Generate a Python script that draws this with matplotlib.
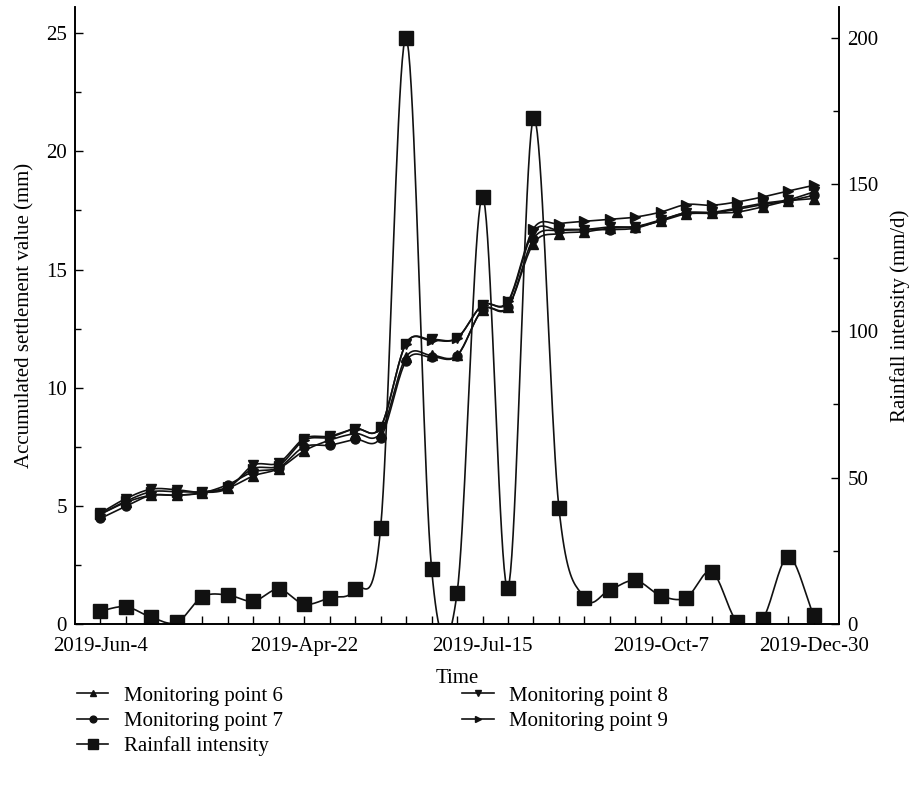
import matplotlib
matplotlib.use('Agg')
import matplotlib.pyplot as plt
import numpy as np

rain = [4.5, 5.9, 2.3, 0.6, 9.3, 9.9, 7.8, 11.9, 6.8, 9.0, 11.9, 32.9, 200, 18.9, 10.5,
        145.8, 12.4, 172.6, 39.7, 9.0, 11.7, 14.9, 9.7, 9.0, 17.9, 0.8, 1.8, 22.9, 3.1]
mp6 = [4.65, 5.15, 5.45, 5.45, 5.55, 5.75, 6.27, 6.58, 7.33, 7.78, 8.06, 8.1, 11.3, 11.37, 11.37,
       13.3, 13.42, 16.1, 16.52, 16.59, 16.75, 16.8, 17.05, 17.35, 17.38, 17.43, 17.65, 17.9, 18.0]
mp7 = [4.47, 4.99, 5.45, 5.45, 5.55, 5.9, 6.44, 6.62, 7.5, 7.57, 7.81, 7.89, 11.13, 11.3, 11.35,
       13.3, 13.4, 16.3, 16.66, 16.69, 16.69, 16.75, 17.08, 17.4, 17.4, 17.55, 17.75, 17.9, 18.14]
mp8 = [4.7, 5.31, 5.71, 5.68, 5.57, 5.74, 6.72, 6.82, 7.85, 7.95, 8.27, 8.34, 11.87, 12.04, 12.1,
       13.5, 13.62, 16.6, 16.66, 16.69, 16.8, 16.82, 17.1, 17.4, 17.42, 17.6, 17.8, 17.95, 18.28]
mp9 = [4.65, 5.2, 5.6, 5.6, 5.6, 5.8, 6.58, 6.7, 7.78, 7.9, 8.27, 8.34, 11.87, 12.0, 12.1,
       13.5, 13.66, 16.73, 16.94, 17.04, 17.12, 17.22, 17.43, 17.75, 17.72, 17.86, 18.07, 18.32, 18.56]
tick_pos = [0, 8, 15, 22, 28]
tick_labels = ['2019-Jun-4', '2019-Apr-22', '2019-Jul-15', '2019-Oct-7', '2019-Dec-30']

N_SUB = 20


def smooth(y, n=N_SUB):
    # Catmull-Rom curve through equally spaced points, x = 0..len-1
    y = np.asarray(y, float)
    m = np.gradient(y)
    xs, ys = [], []
    t = np.linspace(0, 1, n, endpoint=False)
    h00 = 2 * t ** 3 - 3 * t ** 2 + 1
    h10 = t ** 3 - 2 * t ** 2 + t
    h01 = -2 * t ** 3 + 3 * t ** 2
    h11 = t ** 3 - t ** 2
    for i in range(len(y) - 1):
        xs.append(i + t)
        ys.append(h00 * y[i] + h10 * m[i] + h01 * y[i + 1] + h11 * m[i + 1])
    xs.append([len(y) - 1])
    ys.append([y[-1]])
    return np.concatenate(xs), np.concatenate(ys)


plt.rcParams['font.family'] = ['Liberation Serif', 'DejaVu Serif']
plt.rcParams['font.size'] = 15

fig = plt.figure(figsize=(9.15, 7.95), dpi=100)
ax = fig.add_axes([0.082, 0.215, 0.835, 0.776])
ax2 = ax.twinx()

series = [(mp6, '^', 'Monitoring point 6'), (mp7, 'o', 'Monitoring point 7'),
          (mp8, 'v', 'Monitoring point 8'), (mp9, '>', 'Monitoring point 9')]
handles = []
for vals, mk, lab in series:
    xs, ys = smooth(vals)
    h, = ax.plot(xs, ys, color='#111111', lw=1.2, marker=mk, markersize=6.5,
                 markevery=N_SUB, label=lab)
    handles.append(h)

xs, ys = smooth(rain)
hr, = ax2.plot(xs, ys, color='#111111', lw=1.2, marker='s', markersize=9.5,
               markevery=N_SUB, label='Rainfall intensity')

ax.set_xlim(-1, 29)
ax.set_ylim(0, 26.1)
ax2.set_ylim(0, 210.5)
ax.set_yticks([0, 5, 10, 15, 20, 25])
ax.set_yticks(np.arange(2.5, 26, 5), minor=True)
ax2.set_yticks([0, 50, 100, 150, 200])
ax2.set_yticks(np.arange(25, 210, 50), minor=True)
ax.set_xticks(tick_pos)
ax.set_xticklabels(tick_labels)
ax.set_xticks(np.arange(0, 29), minor=True)

for a in (ax, ax2):
    a.spines['top'].set_visible(False)
    for s in a.spines.values():
        s.set_linewidth(1.2)
    a.tick_params(which='both', direction='in', width=1.0)
    a.tick_params(which='major', length=6, pad=6)
    a.tick_params(which='minor', length=4)
ax.tick_params(axis='x', which='both', length=6, pad=9)

ax.set_xlabel('Time', labelpad=10)
ax.set_ylabel('Accumulated settlement value (mm)', labelpad=8)
ax2.set_ylabel('Rainfall intensity (mm/d)', labelpad=8)

order = [handles[0], handles[1], hr, handles[2], handles[3]]
fig.legend(order, [h.get_label() for h in order], ncol=2, frameon=False,
           loc='upper left', bbox_to_anchor=(0.073, 0.15), borderpad=0,
           handlelength=1.5, handletextpad=0.75, columnspacing=8.6,
           labelspacing=0.27, numpoints=1, markerscale=0.75, fontsize=15)

fig.savefig('out.png', dpi=100)
